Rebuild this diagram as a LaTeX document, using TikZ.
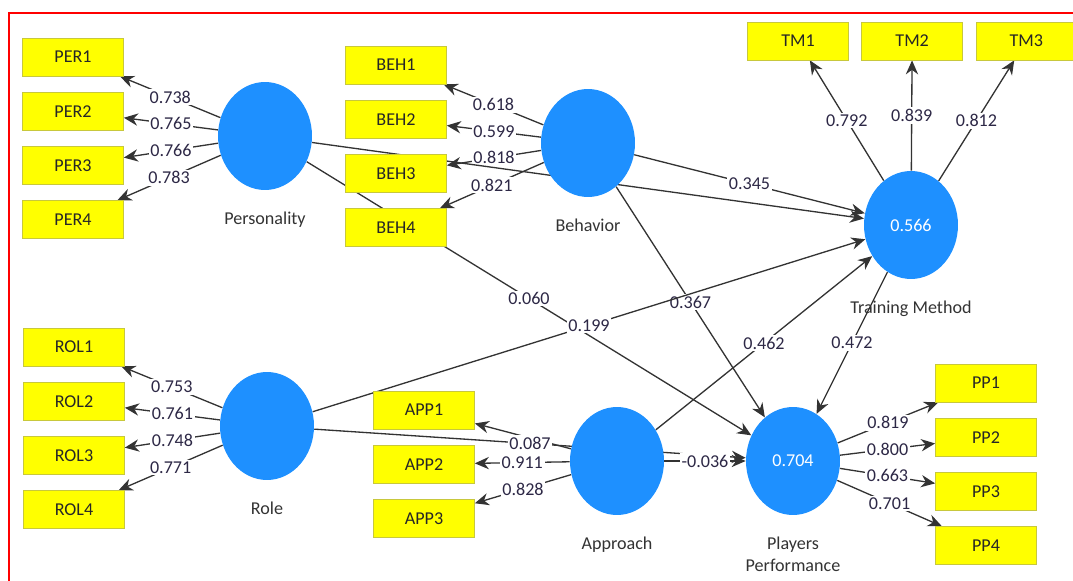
\documentclass[tikz,border=0pt]{standalone}
\usepackage{fontspec}
\setmainfont{Carlito}
\usetikzlibrary{positioning,shapes.geometric,arrows.meta,backgrounds}
\definecolor{lvblue}{RGB}{30,144,255}
\definecolor{mvyellow}{RGB}{255,255,0}
\definecolor{mvedge}{RGB}{200,200,60}
\definecolor{valtext}{RGB}{45,40,70}

\begin{document}
\begin{tikzpicture}[x=0.02cm,y=-0.02cm,node distance=0.31cm,
    font=\fontsize{10.3}{13}\selectfont,
    lv/.style={fill=lvblue,ellipse,minimum width=1.88cm,minimum height=2.16cm,text=white,
        label={[label distance=0.3cm,text=black!80,align=center]below:#1}},
    mv/.style={draw=mvedge,fill=mvyellow,minimum width=2.02cm,minimum height=0.76cm,inner sep=0pt,text=black!85},
    ld/.style={-{Stealth[length=8pt,width=7pt]},line width=0.75pt,black!80},
    val/.style={fill=white,inner sep=1pt,text=valtext}]
    \useasboundingbox (0,0) rectangle (1073,581);
    \draw[red,line width=1pt] (9,581) -- (9,13) -- (1073,13);

    \node[lv=Personality] (per) at (265,136) {};
    \node[lv=Behavior] (beh) at (588,143) {};
    \node[lv=Training Method] (tm) at (911,225) {0.566};
    \node[lv=Role] (rol) at (267,426) {};
    \node[lv=Approach] (app) at (617,461) {};
    \node[lv={Players\\Performance}] (pp) at (793,461) {0.704};

    \node[mv] (per1) at (73,57) {PER1};
    \node[mv,below=of per1] (per2) {PER2};
    \node[mv,below=of per2] (per3) {PER3};
    \node[mv,below=of per3] (per4) {PER4};
    \node[mv] (beh1) at (396,65) {BEH1};
    \node[mv,below=of beh1] (beh2) {BEH2};
    \node[mv,below=of beh2] (beh3) {BEH3};
    \node[mv,below=of beh3] (beh4) {BEH4};
    \node[mv] (tm1) at (798,41) {TM1};
    \node[mv,right=0.25cm of tm1] (tm2) {TM2};
    \node[mv,right=0.25cm of tm2] (tm3) {TM3};
    \node[mv] (rol1) at (74,347) {ROL1};
    \node[mv,below=of rol1] (rol2) {ROL2};
    \node[mv,below=of rol2] (rol3) {ROL3};
    \node[mv,below=of rol3] (rol4) {ROL4};
    \node[mv] (app1) at (424,410) {APP1};
    \node[mv,below=of app1] (app2) {APP2};
    \node[mv,below=of app2] (app3) {APP3};
    \node[mv] (pp1) at (986,383) {PP1};
    \node[mv,below=of pp1] (pp2) {PP2};
    \node[mv,below=of pp2] (pp3) {PP3};
    \node[mv,below=of pp3] (pp4) {PP4};

    \begin{pgfonlayer}{background}
    \foreach \i/\v in {1/0.738,2/0.765,3/0.766,4/0.783}
        \draw[ld] (per) -- node[val] {\v} (per\i);
    \foreach \i/\v in {1/0.618,2/0.599,3/0.818,4/0.821}
        \draw[ld] (beh) -- node[val] {\v} (beh\i);
    \foreach \i/\v in {1/0.792,2/0.839,3/0.812}
        \draw[ld] (tm) -- node[val] {\v} (tm\i);
    \foreach \i/\v in {1/0.753,2/0.761,3/0.748,4/0.771}
        \draw[ld] (rol) -- node[val] {\v} (rol\i);
    \draw[ld] (app) -- (app1);
    \draw[ld] (app) -- node[val] {0.911} (app2);
    \draw[ld] (app) -- node[val] {0.828} (app3);
    \foreach \i/\v in {1/0.819,2/0.800,3/0.663,4/0.701}
        \draw[ld] (pp) -- node[val] {\v} (pp\i);

    \draw[ld] (per) -- (tm);
    \draw[ld] (per) -- node[val] {0.060} (pp);
    \draw[ld] (beh) -- node[val] {0.345} (tm);
    \draw[ld] (beh) -- node[val] {0.367} (pp);
    \draw[ld] (rol) -- node[val] {0.199} (tm);
    \draw[ld] (rol) -- node[val] {0.087} (pp);
    \draw[ld] (app) -- node[val] {0.462} (tm);
    \draw[ld] (app) -- node[val] {-0.036} (pp);
    \draw[ld] (tm) -- node[val] {0.472} (pp);
    \end{pgfonlayer}
\end{tikzpicture}
\end{document}
